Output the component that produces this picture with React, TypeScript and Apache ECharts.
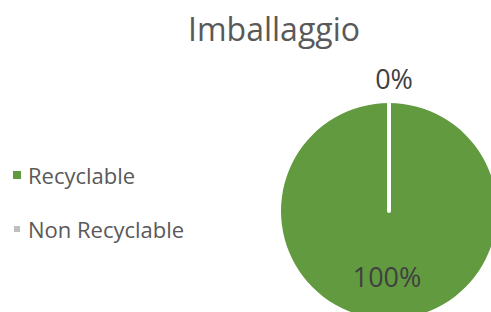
import React, { useEffect, useRef } from "react";
import * as echarts from "echarts";

const titleText = "Imballaggio";
const categories = ["Recyclable", "Non Recyclable"];
const values = [100, 0];
const colors = ["#629B3F", "#BFBFBF"];

const FONT = "'Open Sans', 'Noto Sans', sans-serif";

export default function App() {
  const ref = useRef<HTMLDivElement>(null);
  useEffect(() => {
    if (!ref.current) return;
    const chart = echarts.init(ref.current, undefined, { renderer: "svg" });
    const data = categories.map((name, i) => ({
      name,
      value: values[i],
      itemStyle:
        i === 1
          ? { color: colors[i], borderColor: "#ffffff", borderWidth: 4 }
          : { color: colors[i], borderWidth: 0 },
      label:
        i === 0
          ? { position: "inside" as const }
          : { position: "outside" as const },
      labelLine: { show: false },
    }));
    chart.setOption({
      animation: false,
      backgroundColor: "#ffffff",
      title: {
        text: titleText,
        left: 269,
        top: 7,
        textAlign: "center",
        textStyle: {
          fontFamily: FONT,
          fontSize: 32,
          fontWeight: "normal",
          color: "#595959",
        },
      },
      legend: {
        orient: "vertical",
        left: 7,
        top: 159,
        itemGap: 32,
        itemWidth: 8,
        itemHeight: 8,
        icon: "rect",
        data: categories,
        textStyle: {
          fontFamily: FONT,
          fontSize: 22,
          color: "#595959",
          padding: [0, 0, 0, 2],
        },
      },
      series: [
        {
          type: "pie",
          center: [389, 211],
          radius: [0, 108],
          startAngle: 90,
          clockwise: true,
          avoidLabelOverlap: false,
          data,
          label: {
            show: true,
            formatter: "{d}%",
            fontFamily: FONT,
            fontSize: 27,
            color: "#404040",
          },
          labelLine: { show: false, length: 0, length2: 0 },
          labelLayout: (params: any) => {
            if (params.dataIndex === 0) return { dy: 8, dx: -2 };
            return { align: "center", dx: 0, dy: -25 };
          },
          emphasis: { disabled: true },
        },
      ],
    });
    return () => chart.dispose();
  }, []);
  return (
    <div
      ref={ref}
      style={{ position: "fixed", left: 0, top: 0, width: 491, height: 312 }}
    />
  );
}
